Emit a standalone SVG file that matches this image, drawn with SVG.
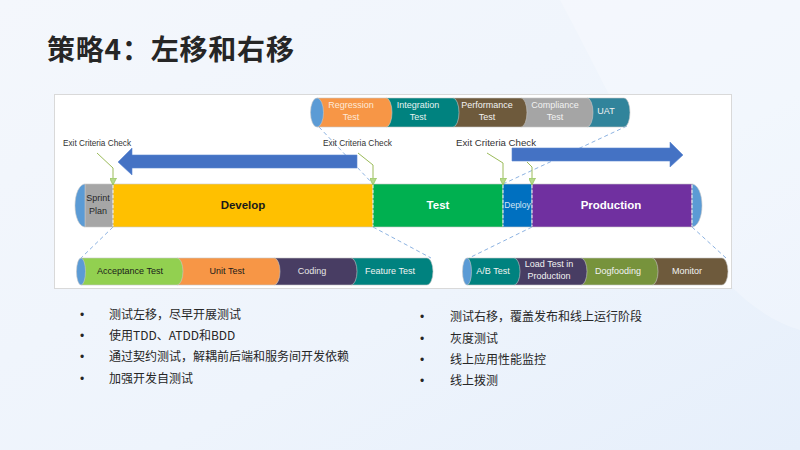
<svg xmlns="http://www.w3.org/2000/svg" width="800" height="450" viewBox="0 0 800 450">
<defs>
  <linearGradient id="bg" x1="0" y1="0" x2="1" y2="1">
    <stop offset="0" stop-color="#f4f7fc"/>
    <stop offset="0.6" stop-color="#eef4fc"/>
    <stop offset="1" stop-color="#e6effb"/>
  </linearGradient>
  <marker id="tri" viewBox="0 0 10 10" refX="10" refY="5" markerWidth="7" markerHeight="7" markerUnits="userSpaceOnUse" orient="auto">
    <path d="M0,0 L10,5 L0,10 Z" fill="#b5d98a" stroke="#8fbf55" stroke-width="1"/>
  </marker>
  <style>
    .lbl { font-family: "Liberation Sans", Arial, sans-serif; text-anchor: middle; }
    .s9 { font-size: 9px; }
    .big { font-size: 11.5px; font-weight: bold; }
    .exit { font-family: "Liberation Sans", Arial, sans-serif; font-size: 8.8px; fill: #333333; }
    .seg { stroke: #c8c8c8; stroke-width: 0.6; }
    .cap { fill: #5b9bd5; stroke: #c8c8c8; stroke-width: 0.6; }
    .dash { fill: none; stroke: #8db3e2; stroke-width: 1; stroke-dasharray: 4 3; }
    .call { fill: none; stroke: #9bbb59; stroke-width: 1; marker-end: url(#tri); }
    .sep { stroke: #ffffff; stroke-width: 0.8; stroke-dasharray: 3 2; }
    .arrow { fill: #4472c4; stroke: #5a86d2; stroke-width: 0.6; }
    .cn { font-family: "Noto Sans CJK SC", "Liberation Sans", sans-serif; font-size: 12px; fill: #262626; }
    .dot { font-family: "Liberation Sans", Arial, sans-serif; font-size: 12px; fill: #262626; }
  </style>
</defs>

<rect width="800" height="450" fill="url(#bg)"/>
<path d="M560,0 C640,150 700,300 800,330 L800,0 Z" fill="#ffffff" opacity="0.25"/>

<text x="47" y="60" font-family="'Noto Sans CJK SC', sans-serif" font-size="28" font-weight="bold" fill="#262626" letter-spacing="0.8">策略4：左移和右移</text>

<rect x="54.5" y="94.5" width="677" height="194" fill="#ffffff" stroke="#d9d9d9" stroke-width="1"/>

<!-- connectors -->
<g id="connectors">
  <line class="dash" x1="319" y1="127" x2="373" y2="184"/>
  <line class="dash" x1="627" y1="126" x2="503" y2="184"/>
  <line class="dash" x1="113" y1="227" x2="81" y2="258"/>
  <line class="dash" x1="373" y1="227" x2="431" y2="258"/>
  <line class="dash" x1="532" y1="227" x2="469" y2="258"/>
  <line class="dash" x1="692" y1="227" x2="726" y2="258"/>
</g>

<!-- top pipe -->
<g id="top-pipe">
  <g id="uat"><path class="seg" d="M587,98 H624 A6,14.5 0 0 1 624,127 H587 Z" fill="#31849b"/>
    <text class="lbl s9" x="606" y="114" fill="#f2f2f2">UAT</text></g>
  <g id="compliance"><path class="seg" d="M521,98 H587 A6,14.5 0 0 1 587,127 H521 Z" fill="#a5a5a5"/>
    <text class="lbl s9" x="555" y="108" fill="#f2f2f2">Compliance</text>
    <text class="lbl s9" x="555" y="120" fill="#f2f2f2">Test</text></g>
  <g id="performance"><path class="seg" d="M453,98 H521 A6,14.5 0 0 1 521,127 H453 Z" fill="#6e5a3c"/>
    <text class="lbl s9" x="487" y="108" fill="#f2f2f2">Performance</text>
    <text class="lbl s9" x="487" y="120" fill="#f2f2f2">Test</text></g>
  <g id="integration"><path class="seg" d="M386,98 H453 A6,14.5 0 0 1 453,127 H386 Z" fill="#00827f"/>
    <text class="lbl s9" x="418" y="108" fill="#e6f2f1">Integration</text>
    <text class="lbl s9" x="418" y="120" fill="#e6f2f1">Test</text></g>
  <g id="regression"><path class="seg" d="M317,98 H386 A6,14.5 0 0 1 386,127 H317 Z" fill="#f79646"/>
    <text class="lbl s9" x="351" y="108" fill="#fde9d9">Regression</text>
    <text class="lbl s9" x="351" y="120" fill="#fde9d9">Test</text></g>
  <ellipse class="cap" cx="317" cy="112.5" rx="6.5" ry="14.5"/>
</g>

<!-- arrows -->
<g id="shift-left"><polygon class="arrow" points="357,155 132,155 132,148 118,162 132,175 132,168 357,168"/></g>
<g id="shift-right"><polygon class="arrow" points="512,148 670,148 670,142 683,155 670,167 670,161 512,161"/></g>

<!-- main pipe -->
<g id="main-pipe">
  <g id="sprint"><rect class="seg" x="85" y="184" width="28" height="43" fill="#a6a6a6"/>
    <text class="lbl s9" x="98" y="201" fill="#262626">Sprint</text>
    <text class="lbl s9" x="98" y="214" fill="#262626">Plan</text></g>
  <g id="develop"><rect class="seg" x="113" y="184" width="260" height="43" fill="#ffc000"/>
    <text class="lbl big" x="243" y="209" fill="#1a1a1a">Develop</text></g>
  <g id="test"><rect class="seg" x="373" y="184" width="130" height="43" fill="#00b050"/>
    <text class="lbl big" x="438" y="209" fill="#ffffff">Test</text></g>
  <g id="deploy"><rect class="seg" x="503" y="184" width="29" height="43" fill="#0070c0"/>
    <text class="lbl" x="517.5" y="208" font-size="8.5" fill="#d6e6f5">Deploy</text></g>
  <g id="production"><rect class="seg" x="532" y="184" width="160" height="43" fill="#7030a0"/>
    <text class="lbl big" x="611" y="209" fill="#ffffff">Production</text></g>
  <path class="cap" d="M85,184 A10,21.5 0 0 0 85,227 Z"/>
  <path class="cap" d="M692,184 A10,21.5 0 0 1 692,227 Z"/>
  <line class="sep" x1="113" y1="185" x2="113" y2="226"/>
  <line class="sep" x1="373" y1="185" x2="373" y2="226"/>
  <line class="sep" x1="503" y1="185" x2="503" y2="226"/>
  <line class="sep" x1="532" y1="185" x2="532" y2="226"/>
  <line class="sep" x1="692" y1="185" x2="692" y2="226"/>
</g>

<!-- exit criteria callouts -->
<g id="exit-checks">
  <text class="exit" x="63" y="146" textLength="68" lengthAdjust="spacingAndGlyphs">Exit Criteria Check</text>
  <text class="exit" x="323" y="146" textLength="69" lengthAdjust="spacingAndGlyphs">Exit Criteria Check</text>
  <text class="exit" x="456" y="145.5" font-size="10px" textLength="80" lengthAdjust="spacingAndGlyphs">Exit Criteria Check</text>
  <polyline class="call" points="97,153 113,168 113,185"/>
  <polyline class="call" points="358,153 373,165 373,185"/>
  <polyline class="call" points="487,153 503,163 503,185"/>
  <polyline class="call" points="527,162 532,167 532,185"/>
</g>

<!-- lower left pipe -->
<g id="left-pipe">
  <g id="feature-test"><path class="seg" d="M351,258 H427 A6,13.5 0 0 1 427,285 H351 Z" fill="#00827f"/>
    <text class="lbl s9" x="390" y="274" fill="#f2f2f2">Feature Test</text></g>
  <g id="coding"><path class="seg" d="M274,258 H351 A6,13.5 0 0 1 351,285 H274 Z" fill="#483d63"/>
    <text class="lbl s9" x="312" y="274" fill="#e6e6e6">Coding</text></g>
  <g id="unit-test"><path class="seg" d="M177,258 H274 A6,13.5 0 0 1 274,285 H177 Z" fill="#f79646"/>
    <text class="lbl s9" x="227" y="274" fill="#1a1a1a">Unit Test</text></g>
  <g id="acceptance-test"><path class="seg" d="M81,258 H177 A6,13.5 0 0 1 177,285 H81 Z" fill="#92d050"/>
    <text class="lbl s9" x="130" y="274" fill="#1a1a1a">Acceptance Test</text></g>
  <ellipse class="cap" cx="81" cy="271.5" rx="4.5" ry="13.5"/>
</g>

<!-- lower right pipe -->
<g id="right-pipe">
  <g id="monitor"><path class="seg" d="M652,258 H722 A6,13.5 0 0 1 722,285 H652 Z" fill="#6e5a3c"/>
    <text class="lbl s9" x="687" y="274" fill="#f2f2f2">Monitor</text></g>
  <g id="dogfooding"><path class="seg" d="M581,258 H652 A6,13.5 0 0 1 652,285 H581 Z" fill="#77933c"/>
    <text class="lbl s9" x="618" y="274" fill="#f2f2f2">Dogfooding</text></g>
  <g id="load-test"><path class="seg" d="M514,258 H581 A6,13.5 0 0 1 581,285 H514 Z" fill="#483d63"/>
    <text class="lbl s9" x="549" y="267" fill="#f2f2f2">Load Test in</text>
    <text class="lbl s9" x="549" y="279" fill="#f2f2f2">Production</text></g>
  <g id="ab-test"><path class="seg" d="M467,258 H514 A6,13.5 0 0 1 514,285 H467 Z" fill="#00827f"/>
    <text class="lbl s9" x="493" y="274" fill="#f2f2f2">A/B Test</text></g>
  <ellipse class="cap" cx="467" cy="271.5" rx="4.5" ry="13.5"/>
</g>

<!-- bullets -->
<g id="left-bullets">
  <text class="dot" x="80" y="319">•</text><text class="cn" x="109" y="319">测试左移，尽早开展测试</text>
  <text class="dot" x="80" y="340">•</text><text class="cn" x="109" y="340">使用TDD、ATDD和BDD</text>
  <text class="dot" x="80" y="361">•</text><text class="cn" x="109" y="361">通过契约测试，解耦前后端和服务间开发依赖</text>
  <text class="dot" x="80" y="383">•</text><text class="cn" x="109" y="383">加强开发自测试</text>
</g>
<g id="right-bullets">
  <text class="dot" x="420" y="321">•</text><text class="cn" x="450" y="321">测试右移，覆盖发布和线上运行阶段</text>
  <text class="dot" x="420" y="343">•</text><text class="cn" x="450" y="343">灰度测试</text>
  <text class="dot" x="420" y="364">•</text><text class="cn" x="450" y="364">线上应用性能监控</text>
  <text class="dot" x="420" y="385">•</text><text class="cn" x="450" y="385">线上拨测</text>
</g>
</svg>
